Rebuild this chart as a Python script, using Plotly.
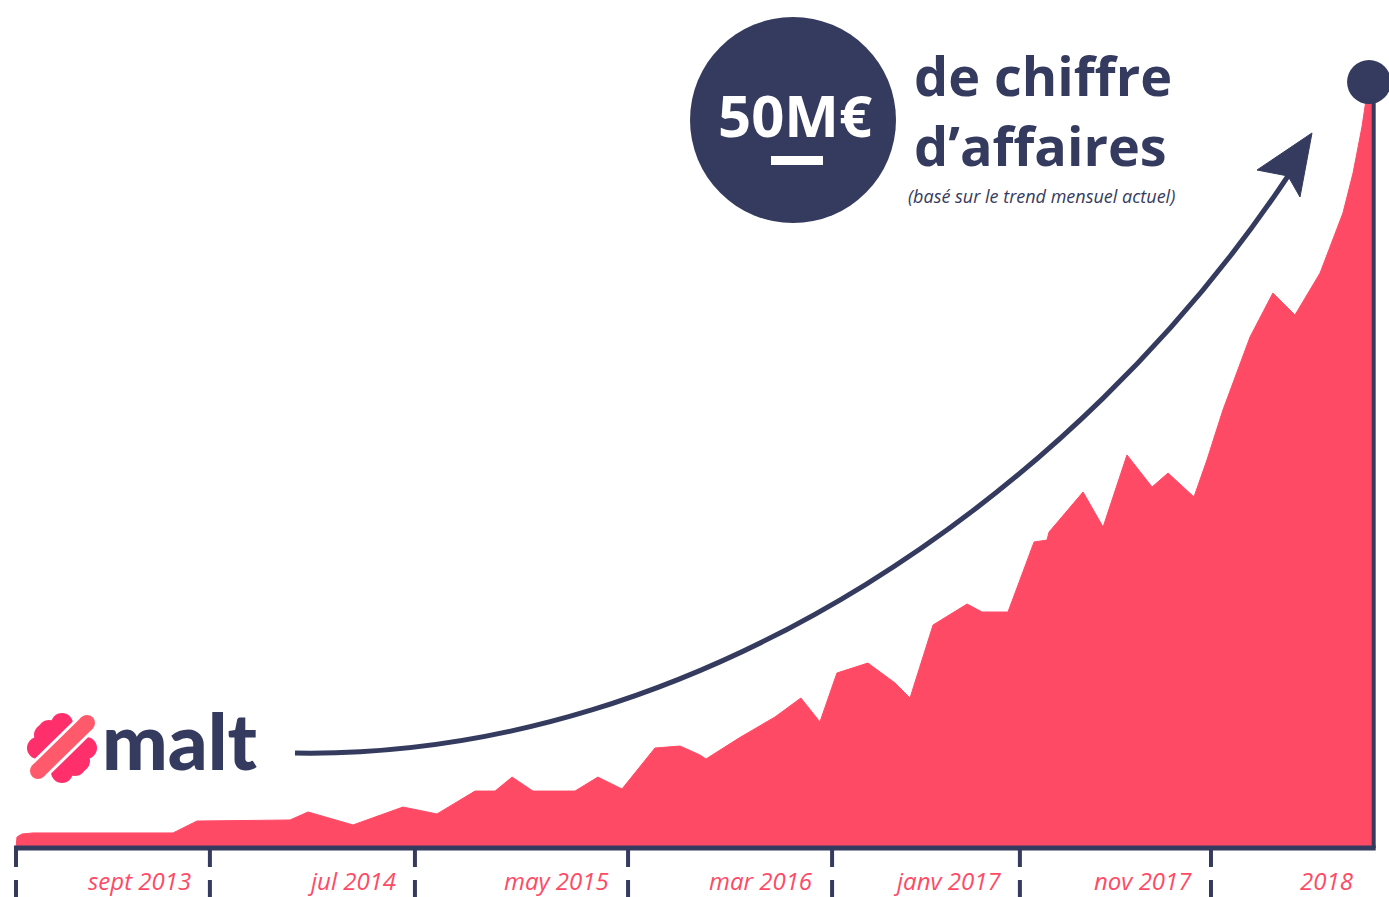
import plotly.graph_objects as go

# ---------------- data ----------------
# months elapsed since the start of the series, and revenue run-rate (M€, top = 50)
months = [0.0, 0.05, 0.30, 0.84, 7.76, 8.94, 13.54, 14.43, 16.65, 19.12, 20.80,
          22.68, 23.67, 24.51, 25.54, 27.62, 28.75, 29.94, 31.57, 32.81, 33.79,
          34.09, 35.72, 37.50, 38.78, 39.72, 40.56, 42.09, 43.43, 44.17, 45.31,
          46.99, 47.73, 49.01, 50.30, 50.94, 51.04, 52.72, 53.71, 54.89, 56.13,
          56.92, 58.20, 58.84, 59.63, 60.97, 62.10, 63.19, 64.43, 65.56, 66.06,
          66.50, 66.70, 67.00]
revenue = [0.0, 0.73, 0.93, 1.00, 1.00, 1.79, 1.86, 2.39, 1.53, 2.72, 2.26,
           3.78, 3.78, 4.71, 3.78, 3.78, 4.71, 3.92, 6.64, 6.77, 6.18,
           5.91, 7.30, 8.70, 9.96, 8.37, 11.62, 12.28, 10.96, 9.96, 14.81,
           16.20, 15.67, 15.67, 20.32, 20.45, 20.98, 23.64, 21.31, 26.10, 23.97,
           24.90, 23.31, 25.76, 29.08, 33.93, 36.85, 35.39, 38.18, 42.16, 44.82,
           47.88, 49.67, 50.00]
tick_months = [0.0, 9.58, 19.71, 30.24, 40.32, 49.60, 59.04]
tick_labels = ["sept 2013", "jul 2014", "may 2015", "mar 2016", "janv 2017", "nov 2017", "2018"]

# ---------------- styling ----------------
PINK = "#ff4a66"
NAVY = "#353b5e"
W, H = 1389, 897
PX_PER_MONTH = 20.24
X0_PX = 16
PX_PER_UNIT = 15.06
BASE_PX = 848


def X(px):
    return px / W


def Y(py):
    return 1 - py / H


def P(x, y):
    return f"{X(x):.5f},{Y(y):.5f}"


fig = go.Figure()

fig.add_trace(go.Scatter(
    x=months, y=revenue, mode="lines", fill="tozeroy",
    fillcolor=PINK, line=dict(color=PINK, width=1),
    hoverinfo="skip", showlegend=False,
))

shapes = []
end_dot_y = revenue[-1] + 0.86
# right vertical line up to the end dot
shapes.append(dict(type="line", xref="x", yref="y", x0=months[-1] + 0.08, x1=months[-1] + 0.08,
                   y0=0, y1=end_dot_y, line=dict(color=NAVY, width=4)))
# baseline
shapes.append(dict(type="line", xref="x", yref="y", x0=months[0] - 0.1, x1=months[-1] + 0.18,
                   y0=0, y1=0, line=dict(color=NAVY, width=5)))
# tick marks (broken)
for t in tick_months:
    shapes.append(dict(type="line", xref="x", yref="paper", x0=t, x1=t,
                       y0=Y(848), y1=Y(867), line=dict(color=NAVY, width=4)))
    shapes.append(dict(type="line", xref="x", yref="paper", x0=t, x1=t,
                       y0=Y(880), y1=Y(900), line=dict(color=NAVY, width=4)))

# big circle
cx, cy, r = 793, 120, 103
shapes.append(dict(type="circle", xref="paper", yref="paper",
                   x0=X(cx - r), x1=X(cx + r), y0=Y(cy + r), y1=Y(cy - r),
                   fillcolor=NAVY, line=dict(width=0), layer="above"))
# underline bar under 50M€
shapes.append(dict(type="rect", xref="paper", yref="paper",
                   x0=X(771), x1=X(823), y0=Y(165), y1=Y(156),
                   fillcolor="white", line=dict(width=0), layer="above"))

# curved arrow
arrow_path = f"M {P(295,753)} C {P(700,760)} {P(1080,490)} {P(1290,173)}"
shapes.append(dict(type="path", xref="paper", yref="paper", path=arrow_path,
                   line=dict(color=NAVY, width=5), layer="above"))
head = f"M {P(1312,133)} L {P(1257,170)} L {P(1288,176)} L {P(1300,197)} Z"
shapes.append(dict(type="path", xref="paper", yref="paper", path=head,
                   fillcolor=NAVY, line=dict(color=NAVY, width=1), layer="above"))

# malt logo icon
lcx, lcy = 62, 748
HOT = "#ff2f6c"
CORAL = "#ff5a6c"
diamond = f"M {P(lcx, lcy-24)} L {P(lcx+24, lcy)} L {P(lcx, lcy+24)} L {P(lcx-24, lcy)} Z"
shapes.append(dict(type="path", xref="paper", yref="paper", path=diamond,
                   fillcolor=HOT, line=dict(width=0), layer="above"))
for dx, dy in [(0, -24), (0, 24), (-24, 0), (24, 0), (-13, -17), (13, 17), (-17, -13), (17, 13)]:
    rr = 11
    shapes.append(dict(type="circle", xref="paper", yref="paper",
                       x0=X(lcx + dx - rr), x1=X(lcx + dx + rr),
                       y0=Y(lcy + dy + rr), y1=Y(lcy + dy - rr),
                       fillcolor=HOT, line=dict(width=0), layer="above"))
shapes.append(dict(type="line", xref="paper", yref="paper",
                   x0=X(37), y0=Y(772), x1=X(88), y1=Y(722),
                   line=dict(color="white", width=22), layer="above"))
shapes.append(dict(type="line", xref="paper", yref="paper",
                   x0=X(38), y0=Y(771), x1=X(87), y1=Y(723),
                   line=dict(color=CORAL, width=16), layer="above"))
for ex, ey in [(38, 771), (87, 723)]:
    shapes.append(dict(type="circle", xref="paper", yref="paper",
                       x0=X(ex - 8), x1=X(ex + 8), y0=Y(ey + 8), y1=Y(ey - 8),
                       fillcolor=CORAL, line=dict(width=0), layer="above"))

# end dot
fig.add_trace(go.Scatter(
    x=[months[-1] - 0.15], y=[end_dot_y], mode="markers",
    marker=dict(color=NAVY, size=44, line=dict(width=0)),
    hoverinfo="skip", showlegend=False, cliponaxis=False,
))

annotations = []
ends = tick_months[1:] + [months[-1]]
for lab, e in zip(tick_labels, ends):
    annotations.append(dict(
        x=e - 17 / PX_PER_MONTH, xref="x", y=Y(880), yref="paper",
        xanchor="right", yanchor="middle", text=lab, showarrow=False,
        font=dict(family="Open Sans", size=24, color=PINK, style="italic"),
    ))

annotations.append(dict(x=X(795), y=Y(115), xref="paper", yref="paper", text="50M€",
                        showarrow=False, xanchor="center", yanchor="middle",
                        font=dict(family="Open Sans", size=58, color="white", weight=700)))
annotations.append(dict(x=X(912), y=Y(110), xref="paper", yref="paper",
                        text="de chiffre<br>d’affaires", align="left",
                        showarrow=False, xanchor="left", yanchor="middle",
                        font=dict(family="Open Sans", size=54, color=NAVY, weight=700)))
annotations.append(dict(x=X(1041), y=Y(196), xref="paper", yref="paper",
                        text="(basé sur le trend mensuel actuel)",
                        showarrow=False, xanchor="center", yanchor="middle",
                        font=dict(family="Open Sans", size=18, color=NAVY, style="italic")))
annotations.append(dict(x=X(100), y=Y(740), xref="paper", yref="paper", text="malt",
                        showarrow=False, xanchor="left", yanchor="middle",
                        font=dict(family="Lato", size=78, color=NAVY, weight=900)))

fig.update_layout(
    width=W, height=H, margin=dict(l=0, r=0, t=0, b=0),
    paper_bgcolor="white", plot_bgcolor="white",
    xaxis=dict(visible=False, range=[(0 - X0_PX) / PX_PER_MONTH, (W - X0_PX) / PX_PER_MONTH], fixedrange=True),
    yaxis=dict(visible=False, range=[(BASE_PX - H) / PX_PER_UNIT, BASE_PX / PX_PER_UNIT], fixedrange=True),
    shapes=shapes, annotations=annotations, showlegend=False,
)

fig.write_html("out.html", config={"displayModeBar": False},
               post_script="document.body.style.margin='0';document.body.style.overflow='hidden';")
